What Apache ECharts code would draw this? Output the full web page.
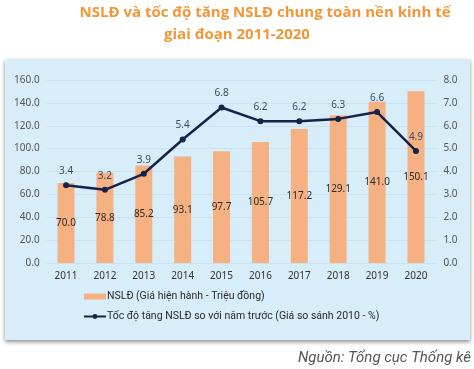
<!DOCTYPE html>
<html><head><meta charset="utf-8">
<script src="https://cdn.jsdelivr.net/npm/echarts@6/dist/echarts.min.js"></script>
<style>html,body{margin:0;padding:0;background:#fff}#c{width:474px;height:369px}</style>
</head><body><div id="c"></div>
<script>
const years = ['2011','2012','2013','2014','2015','2016','2017','2018','2019','2020'];
const productivity = [70.0, 78.8, 85.2, 93.1, 97.7, 105.7, 117.2, 129.1, 141.0, 150.1];
const growthRate = [3.4, 3.2, 3.9, 5.4, 6.8, 6.2, 6.2, 6.3, 6.6, 4.9];
const barName = 'NSLĐ (Giá hiện hành - Triệu đồng)';
const lineName = 'Tốc độ tăng NSLĐ so với năm trước (Giá so sánh 2010 - %)';
const titleLines = ['NSLĐ và tốc độ tăng NSLĐ chung toàn nền kinh tế', 'giai đoạn 2011-2020'];
const sourceText = 'Nguồn: Tổng cục Thống kê';

const chart = echarts.init(document.getElementById('c'), null, {renderer:'canvas'});
const font = '"Noto Sans", sans-serif';
chart.setOption({
  animation:false,
  backgroundColor:'#ffffff',
  graphic:[
    {type:'rect', shape:{x:5,y:59,width:465,height:281}, z:-10,
     style:{fill:'#d7edfa', shadowColor:'rgba(0,0,0,0.45)', shadowBlur:4, shadowOffsetY:2, shadowOffsetX:0}},
    {type:'text', style:{text:titleLines[0], x:265, y:13, align:'center', verticalAlign:'middle', fill:'#f29636', font:'bold 15px "Open Sans", sans-serif'}},
    {type:'text', style:{text:titleLines[1], x:237, y:35, align:'center', verticalAlign:'middle', fill:'#f29636', font:'bold 15px "Open Sans", sans-serif'}},
    {type:'text', style:{text:sourceText, x:471, y:358, align:'right', verticalAlign:'middle', fill:'#555', font:'italic 15px Roboto, sans-serif'}}
  ],
  grid:{left:46.6, right:38.6, top:80, bottom:106},
  legend:{
    orient:'vertical', left:83, top:291, padding:0, itemWidth:22, itemHeight:6, itemGap:9,
    textStyle:{fontFamily:'Roboto, sans-serif', fontSize:10.5, color:'#2a2a2a', padding:[0,0,0,-4]},
    data:[{name:barName, icon:'rect'}, {name:lineName}]
  },
  xAxis:{
    type:'category', data:years,
    axisLine:{show:false}, axisTick:{show:false},
    axisLabel:{color:'#333', fontFamily:font, fontSize:10, margin:8}
  },
  yAxis:[
    {type:'value', min:0, max:160, interval:20,
     axisLabel:{formatter:v=>v.toFixed(1), color:'#555', fontFamily:font, fontSize:10, margin:7},
     splitLine:{lineStyle:{color:'#c9e2f2', width:1}}},
    {type:'value', min:0, max:8, interval:1, position:'right',
     axisLabel:{formatter:v=>v.toFixed(1), color:'#555', fontFamily:font, fontSize:10, margin:8},
     splitLine:{show:false}}
  ],
  series:[
    {name:barName, type:'bar', data:productivity, barWidth:17, itemStyle:{color:'#f6b182'},
     label:{show:true, position:'inside', formatter:p=>p.value.toFixed(1), color:'#2a2a2a', fontFamily:font, fontSize:10}},
    {name:lineName, type:'line', yAxisIndex:1, data:growthRate, symbol:'circle', symbolSize:6,
     lineStyle:{color:'#15224a', width:2.5}, itemStyle:{color:'#15224a'},
     label:{show:true, position:'top', distance:6, formatter:p=>p.value.toFixed(1), color:'#3d4b66', fontFamily:font, fontSize:10}}
  ]
});
</script></body></html>
